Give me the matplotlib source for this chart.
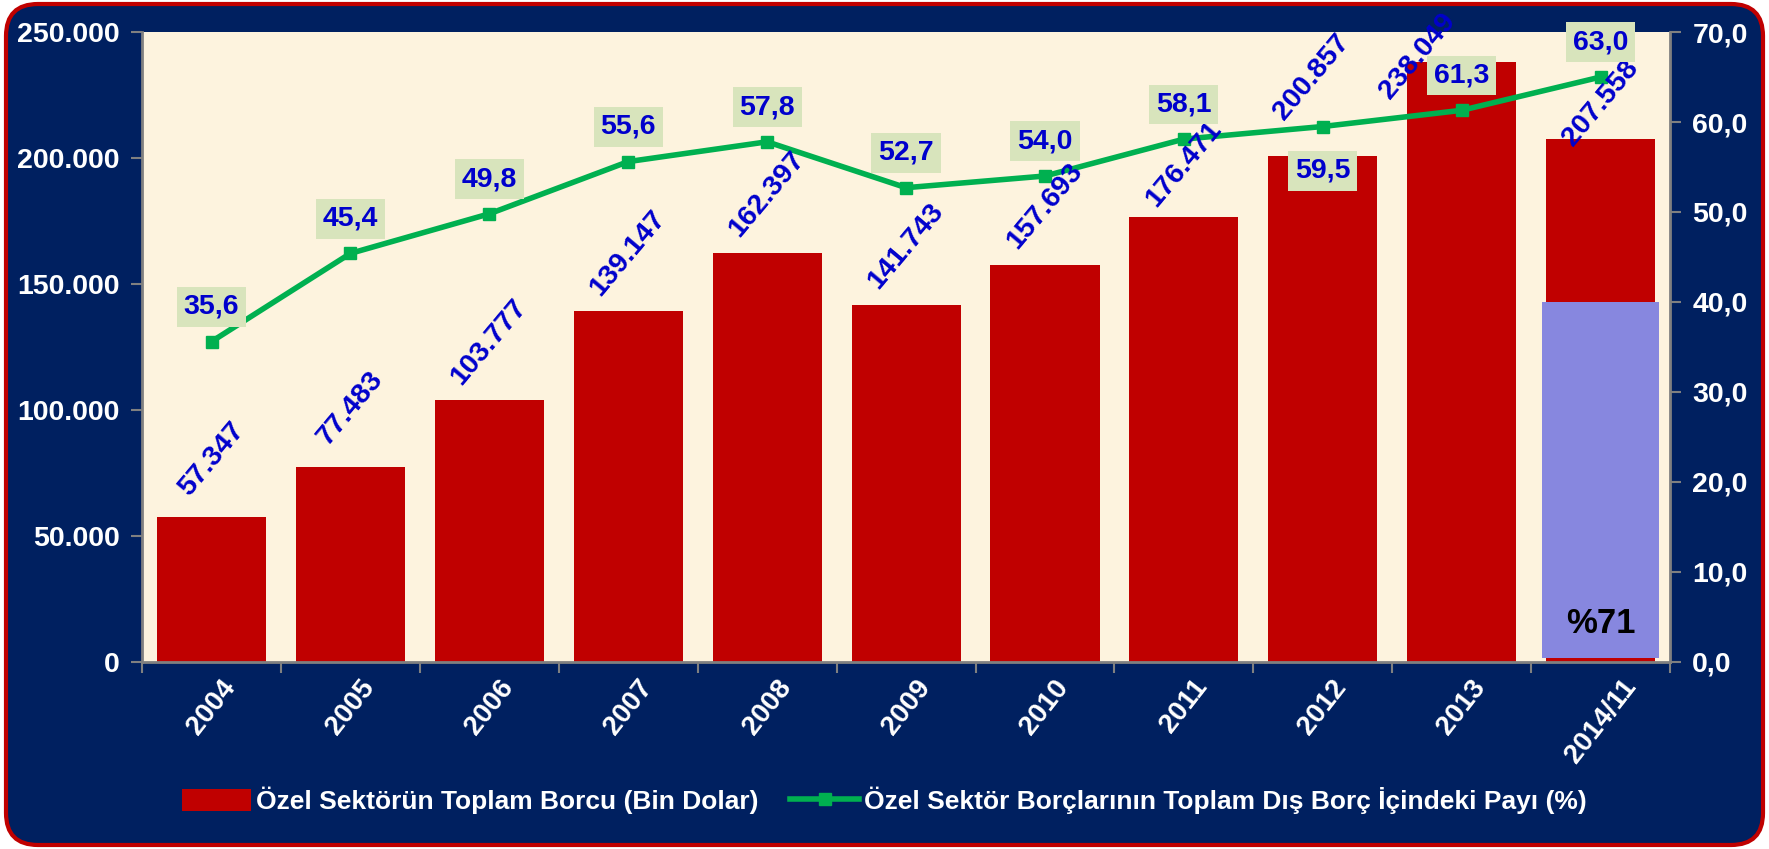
import matplotlib
matplotlib.use('Agg')
import matplotlib.pyplot as plt
from matplotlib.patches import FancyBboxPatch, Rectangle, Patch
from matplotlib.lines import Line2D
from matplotlib.ticker import FuncFormatter, MultipleLocator

plt.rcParams['font.family'] = ['Liberation Sans', 'DejaVu Sans']
plt.rcParams['font.weight'] = 'bold'

# data
years = ['2004', '2005', '2006', '2007', '2008', '2009', '2010', '2011', '2012', '2013', '2014/11']
debt = [57347, 77483, 103777, 139147, 162397, 141743, 157693, 176471, 200857, 238049, 207558]
share = [35.6, 45.4, 49.8, 55.6, 57.8, 52.7, 54.0, 58.1, 59.5, 61.3, 65.0]
share_labels = ['35,6', '45,4', '49,8', '55,6', '57,8', '52,7', '54,0', '58,1', '59,5', '61,3', '63,0']
note_text = '%71'
note_top = 40.0

navy = '#002060'
red = '#C00000'
green = '#00B050'
blue = '#0000CC'
cream = '#FDF3DE'

fig = plt.figure(figsize=(17.69, 8.49), dpi=100)
fig.patch.set_facecolor('white')

# rounded navy frame with red edge
frame = FancyBboxPatch((0.06, 0.04), 17.57, 8.41,
                       boxstyle='round,pad=0,rounding_size=0.32',
                       transform=fig.dpi_scale_trans, facecolor=navy,
                       edgecolor=red, linewidth=3, zorder=-10)
fig.add_artist(frame)

ax = fig.add_axes([0.0803, 0.2203, 0.8638, 0.742])
ax.set_facecolor(cream)
x = list(range(len(years)))
ax.bar(x, debt, width=0.785, color=red, zorder=2)
ax.set_xlim(-0.5, len(years) - 0.5)
ax.set_ylim(0, 250000)
ax.yaxis.set_major_locator(MultipleLocator(50000))
ax.yaxis.set_major_formatter(FuncFormatter(lambda v, p: f'{int(v):,}'.replace(',', '.')))

ax.set_xticks(x)
ax.set_xticklabels(years, rotation=52, ha='center', va='top')
ax.set_xticks([i - 0.5 for i in range(len(years) + 1)], minor=True)
ax.tick_params(axis='x', which='major', length=0, pad=9, labelsize=20, labelcolor='white')
ax.tick_params(axis='x', which='minor', length=8, width=1.5, color='#808080')
ax.tick_params(axis='y', length=8, width=1.5, color='#808080', labelsize=20.5,
               labelcolor='white', pad=8)
for s in ['top', 'right']:
    ax.spines[s].set_visible(False)
for s in ['left', 'bottom']:
    ax.spines[s].set_color('#808080')
    ax.spines[s].set_linewidth(2)

ax2 = ax.twinx()
ax2.set_ylim(0, 70)
ax2.yaxis.set_major_locator(MultipleLocator(10))
ax2.yaxis.set_major_formatter(FuncFormatter(lambda v, p: f'{v:.1f}'.replace('.', ',')))
ax2.tick_params(axis='y', length=8, width=1.5, color='#808080', labelsize=20.5,
                labelcolor='white', pad=8)
for s in ['top', 'left', 'bottom']:
    ax2.spines[s].set_visible(False)
ax2.spines['right'].set_color('#808080')
ax2.spines['right'].set_linewidth(2)

# lavender note over the last bar
last = len(years) - 1
ax2.add_patch(Rectangle((last - 0.42, 0.4), 0.84, note_top - 0.4,
                        facecolor='#8787DF', edgecolor='none', zorder=1))
ax2.text(last, 4.3, note_text, ha='center', va='center', fontsize=25,
         fontweight='bold', color='black', zorder=2)

ax2.plot(x, share, color=green, linewidth=4, marker='s', markersize=9, zorder=3)
for i, (v, lbl) in enumerate(zip(share, share_labels)):
    dy = -32 if i == 8 else 25
    ax2.annotate(lbl, (i, v), xytext=(0, dy), textcoords='offset points',
                 ha='center', va='center', color=blue, fontsize=20.5, fontweight='bold',
                 bbox=dict(boxstyle='square,pad=0.24', fc='#D8E4BC', ec='none'),
                 zorder=6, annotation_clip=False)

# value labels above bars, drawn on top of the line (a few nudged by hand in the original)
for i, v in enumerate(debt):
    dx, dy = 0, 42
    if i == 7:
        dx, dy = 0, 38
    elif i == 8:
        dx, dy = -8, 57
    elif i == 9:
        dx, dy = -32, 4
    elif i == 10:
        dx, dy = 0, 26
    ax2.annotate(f'{v:,}'.replace(',', '.'), (i, v), xycoords=ax.transData,
                 xytext=(dx, dy), textcoords='offset points', rotation=50,
                 ha='center', va='center', color=blue, fontsize=20.5,
                 fontweight='bold', zorder=5, annotation_clip=False)

handles = [Patch(facecolor=red, edgecolor='none'),
           Line2D([0], [0], color=green, linewidth=4, marker='s', markersize=9)]
labels = ['Özel Sektörün Toplam Borcu (Bin Dolar)',
          'Özel Sektör Borçlarının Toplam Dış Borç İçindeki Payı (%)']
fig.legend(handles, labels, loc='center', bbox_to_anchor=(0.5, 0.057), ncol=2,
           frameon=False, fontsize=19, labelcolor='white', handlelength=2.6,
           handletextpad=0.2, columnspacing=1.2, handleheight=0.9)

fig.savefig('out.png', dpi=100, facecolor=fig.get_facecolor())
